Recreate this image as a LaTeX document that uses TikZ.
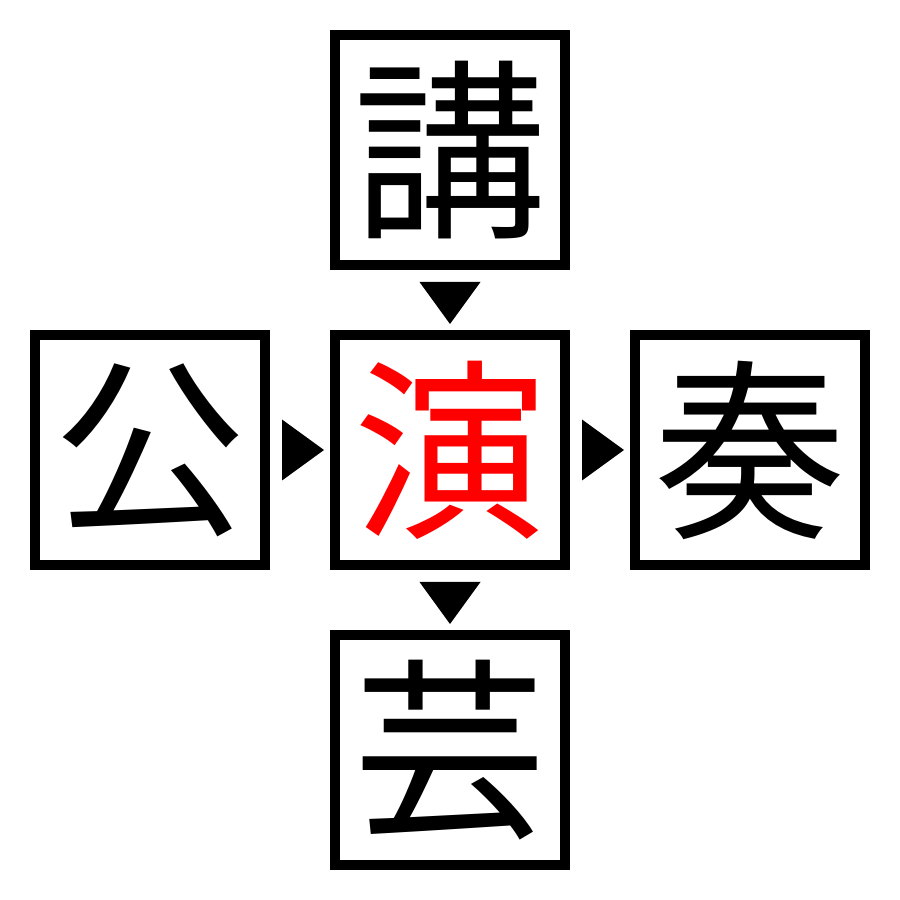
\documentclass[tikz,border=0pt]{standalone}
\usepackage{fontspec}
\newfontfamily\cjk{Noto Sans CJK JP}
\usetikzlibrary{calc}

\tikzset{
    kanjibox/.style = {draw=black, line width=0.1cm, fill=white, minimum size=2.3cm, inner sep=0pt,
        font={\cjk\fontsize{55}{55}\selectfont}},
}

\begin{document}
\begin{tikzpicture}
    \useasboundingbox (0, 0) rectangle (9, 9);

    % boxes
    \node[kanjibox] (kou) at (4.5, 7.5) {講};
    \node[kanjibox] (kouen) at (1.5, 4.5) {公};
    \node[kanjibox, text=red] (en) at (4.5, 4.5) {演};
    \node[kanjibox] (sou) at (7.5, 4.5) {奏};
    \node[kanjibox] (gei) at (4.5, 1.5) {芸};

    % triangles
    \fill[color=black] ($(kou.south)+(-0.305, -0.12)$) -- ($(kou.south)+(0.305, -0.12)$) -- ($(en.north)+(0, 0.06)$) -- cycle;
    \fill[color=black] ($(en.south)+(-0.305, -0.12)$) -- ($(en.south)+(0.305, -0.12)$) -- ($(gei.north)+(0, 0.06)$) -- cycle;
    \fill[color=black] ($(kouen.east)+(0.12, 0.305)$) -- ($(kouen.east)+(0.12, -0.305)$) -- ($(en.west)+(-0.06, 0)$) -- cycle;
    \fill[color=black] ($(en.east)+(0.12, 0.305)$) -- ($(en.east)+(0.12, -0.305)$) -- ($(sou.west)+(-0.06, 0)$) -- cycle;
\end{tikzpicture}
\end{document}
